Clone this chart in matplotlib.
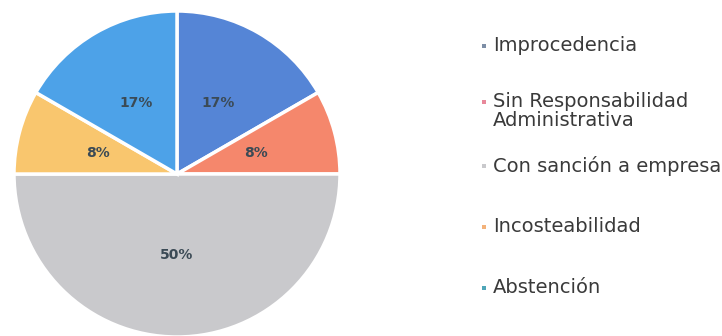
import matplotlib.pyplot as plt
from matplotlib.patches import Rectangle

categories = ['Improcedencia', 'Sin Responsabilidad\nAdministrativa',
              'Con sanción a empresa', 'Incosteabilidad', 'Abstención']
counts = [2, 1, 6, 1, 2]
colors = ['#5585d6', '#f5876c', '#c9c9cc', '#f9c66e', '#4da2e8']
marker_colors = ['#7d8ea6', '#e8889a', '#c9c9cc', '#f3b27a', '#4fa6b8']

fig = plt.figure(figsize=(7.22, 3.36), dpi=100, facecolor='white')
ax = fig.add_axes([14 / 722, -2 / 336, 326 / 722, 328 / 336])

wedges, texts, autotexts = ax.pie(
    counts, colors=colors, startangle=90, counterclock=False,
    autopct='%1.0f%%', pctdistance=0.5,
    wedgeprops=dict(edgecolor='white', linewidth=2.5),
    textprops=dict(fontsize=10, color='#3b4a55', fontweight='bold'))
ax.set_xlim(-1, 1)
ax.set_ylim(-1, 1)
ax.set_aspect('equal')

# leyenda a la derecha (cuadrito + texto)
legend_y = [46, 102, 166, 227, 288]
for lab, mc, y in zip(categories, marker_colors, legend_y):
    fig.add_artist(Rectangle((482 / 722, 1 - (y + 2) / 336), 4 / 722, 4 / 336,
                             transform=fig.transFigure, color=mc, lw=0))
    fig.text(493 / 722, 1 - (y - 10) / 336, lab, fontsize=14, color='#3a3a3a',
             va='top', ha='left', linespacing=1.0)

fig.savefig('out.png', dpi=100)
